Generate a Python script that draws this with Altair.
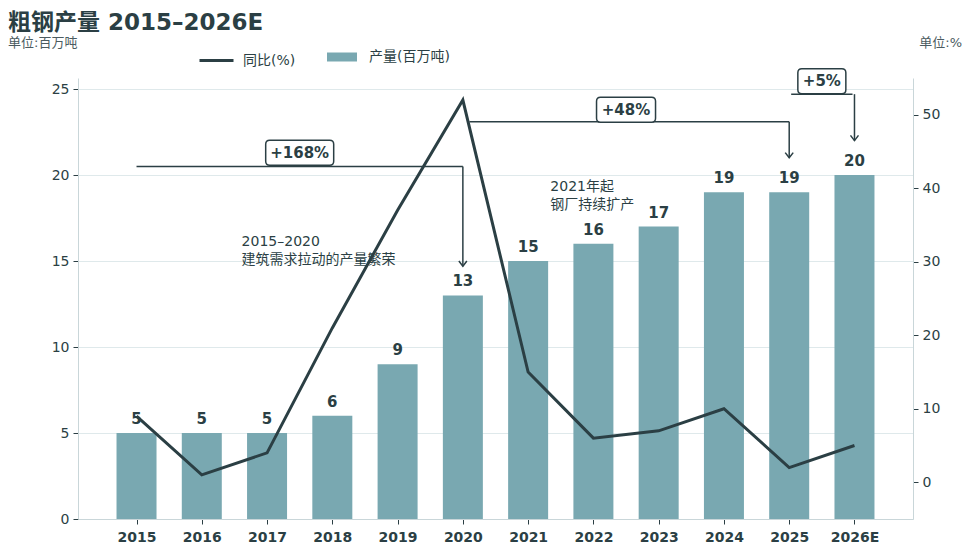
import altair as alt
import pandas as pd

years = ["2015", "2016", "2017", "2018", "2019", "2020",
         "2021", "2022", "2023", "2024", "2025", "2026E"]
output = [5, 5, 5, 6, 9, 13, 15, 16, 17, 19, 19, 20]   # 百万吨
yoy = [9, 1, 4, 21, 37, 52, 15, 6, 7, 10, 2, 5]         # %

# growth brackets: x is the year index, y on the left (output) axis
growth_labels = ["+168%", "+48%", "+5%"]
label_x = [2.5, 7.5, 10.5]
label_y = [21.3, 23.8, 25.45]
label_w = [68, 59, 48]
bracket_x1 = [0.0, 5.1, 10.03]
bracket_x2 = [5.0, 10.0, 10.97]
bracket_y = [20.5, 23.1, 24.7]
arrow_x = [5.0, 10.0, 11.0]
arrow_y2 = [14.7, 21.0, 22.0]

notes = ["2015–2020\n建筑需求拉动的产量繁荣", "2021年起\n钢厂持续扩产"]
note_x = [1.61, 6.34]
note_y = [16.1, 19.3]

DARK = "#2b3f44"
BAR = "#79a8b1"
FONT = "DejaVu Sans, Noto Sans CJK SC"

df = pd.DataFrame({"idx": list(range(len(years))), "year": years,
                   "output": output, "yoy": yoy})
df["s_bar"] = "产量(百万吨)"
df["s_line"] = "同比(%)"

ann = pd.DataFrame({"label": growth_labels, "lx": label_x, "ly": label_y,
                    "x1": bracket_x1, "x2": bracket_x2, "by": bracket_y,
                    "ax": arrow_x, "ay2": arrow_y2})
note_df = pd.DataFrame({"note": notes, "nx": note_x, "ny": note_y})

label_expr = "[" + ",".join(f"'{y}'" for y in years) + "][datum.value]"
x_scale = alt.Scale(domain=[-0.82, 11.82], nice=False, zero=False)
x_axis = alt.Axis(values=list(range(len(years))), labelExpr=label_expr, title=None,
                  grid=False, labelFontWeight="bold", labelFontSize=14, labelPadding=6,
                  tickSize=5, tickColor=DARK, domainColor="#c9d6d9", labelColor=DARK)
y_scale = alt.Scale(domain=[0, 25.64], nice=False)
y_axis = alt.Axis(values=[0, 5, 10, 15, 20, 25], title=None, grid=True,
                  gridColor="#dfe9eb", labelFontSize=14, tickSize=5, tickColor=DARK,
                  domainColor="#c9d6d9", labelColor=DARK, labelPadding=4)


def X(field):
    return alt.X(field, type="quantitative", scale=x_scale, axis=x_axis)


def Y(field):
    return alt.Y(field, type="quantitative", scale=y_scale, axis=y_axis)


base = alt.Chart(df)

bars = base.mark_bar(size=40).encode(
    x=X("idx"), y=Y("output"),
    fill=alt.Fill("s_bar:N", scale=alt.Scale(range=[BAR]),
                  legend=alt.Legend(title=None, orient="none", legendX=249, legendY=-36,
                                    symbolType="M-1,-0.3L1,-0.3L1,0.3L-1,0.3Z",
                                    symbolSize=900, symbolStrokeWidth=0,
                                    labelFontSize=14, labelColor=DARK, labelFont=FONT,
                                    labelOffset=12)),
)

bar_text = base.mark_text(fontWeight="bold", fontSize=15, color=DARK, dy=-14,
                          font=FONT).encode(x=X("idx"), y=Y("output"), text="output:Q")

annb = alt.Chart(ann)
brackets = annb.mark_rule(color=DARK, strokeWidth=1.5).encode(
    x=X("x1"), x2="x2", y=Y("by"))
shafts = annb.mark_rule(color=DARK, strokeWidth=1.5).encode(
    x=X("ax"), y=Y("by"), y2="ay2")
heads = annb.mark_point(shape="M-1,-1.3L0,0L1,-1.3", size=64, filled=False,
                        color=DARK, strokeWidth=1.5, opacity=1).encode(
    x=X("ax"), y=Y("ay2"))


def box_path(w, h=25, s=68, rad=4):
    hx, hy, r = w / s, h / s, 2 * rad / s
    return (f"M{-hx + r},{-hy}L{hx - r},{-hy}Q{hx},{-hy} {hx},{-hy + r}"
            f"L{hx},{hy - r}Q{hx},{hy} {hx - r},{hy}L{-hx + r},{hy}"
            f"Q{-hx},{hy} {-hx},{hy - r}L{-hx},{-hy + r}Q{-hx},{-hy} {-hx + r},{-hy}Z")


boxes = []
for i, lab in enumerate(growth_labels):
    one = alt.Chart(ann.iloc[[i]])
    boxes.append(one.mark_point(shape=box_path(label_w[i]), size=68 * 68, filled=True,
                                fill="white", stroke=DARK, strokeWidth=1.5,
                                opacity=1).encode(x=X("lx"), y=Y("ly")))
box_text = annb.mark_text(fontWeight="bold", fontSize=15, color=DARK, font=FONT).encode(
    x=X("lx"), y=Y("ly"), text="label:N")

note_text = alt.Chart(note_df).mark_text(align="left", baseline="middle", fontSize=14,
                                         lineBreak="\n", lineHeight=18, color=DARK,
                                         font=FONT).encode(
    x=X("nx"), y=Y("ny"), text="note:N")

head = pd.DataFrame({"t": ["粗钢产量 2015–2026E"], "u1": ["单位:百万吨"], "u2": ["单位:%"]})
hb = alt.Chart(head)
title = hb.mark_text(align="left", baseline="middle", fontSize=23, fontWeight="bold",
                     color=DARK, font=FONT).encode(
    x=alt.value(-70), y=alt.value(-55), text="t:N")
unit_l = hb.mark_text(align="left", baseline="middle", fontSize=13, color="#4b5b60",
                      font=FONT).encode(x=alt.value(-70), y=alt.value(-35), text="u1:N")
unit_r = hb.mark_text(align="right", baseline="middle", fontSize=13, color="#4b5b60",
                      font=FONT).encode(x=alt.value(884), y=alt.value(-35), text="u2:N")

left = alt.layer(bars, bar_text, brackets, shafts, heads, *boxes, box_text, note_text,
                 title, unit_l, unit_r)

line = base.mark_line(strokeWidth=3).encode(
    x=X("idx"),
    y=alt.Y("yoy:Q", scale=alt.Scale(domain=[-5, 55], nice=False),
            axis=alt.Axis(orient="right", values=[0, 10, 20, 30, 40, 50], title=None,
                          grid=False, labelFontSize=14, tickSize=5, tickColor=DARK,
                          domainColor="#c9d6d9", labelColor=DARK, labelPadding=4)),
    stroke=alt.Stroke("s_line:N", scale=alt.Scale(range=[DARK]),
                      legend=alt.Legend(title=None, orient="none", legendX=120, legendY=-36,
                                        symbolType="stroke", symbolSize=1156,
                                        symbolStrokeWidth=3, labelFontSize=14,
                                        labelColor=DARK, labelFont=FONT, labelOffset=8)),
)

chart = alt.layer(left, line).resolve_scale(
    y="independent", fill="independent", stroke="independent"
).properties(
    width=835, height=441,
    autosize=alt.AutoSizeParams(type="none"),
    padding={"left": 70, "top": 70, "right": 54, "bottom": 26},
).configure_view(stroke=None).configure_axis(labelFont=FONT)

chart.save("out.html", embed_options={"renderer": "svg", "actions": False})
